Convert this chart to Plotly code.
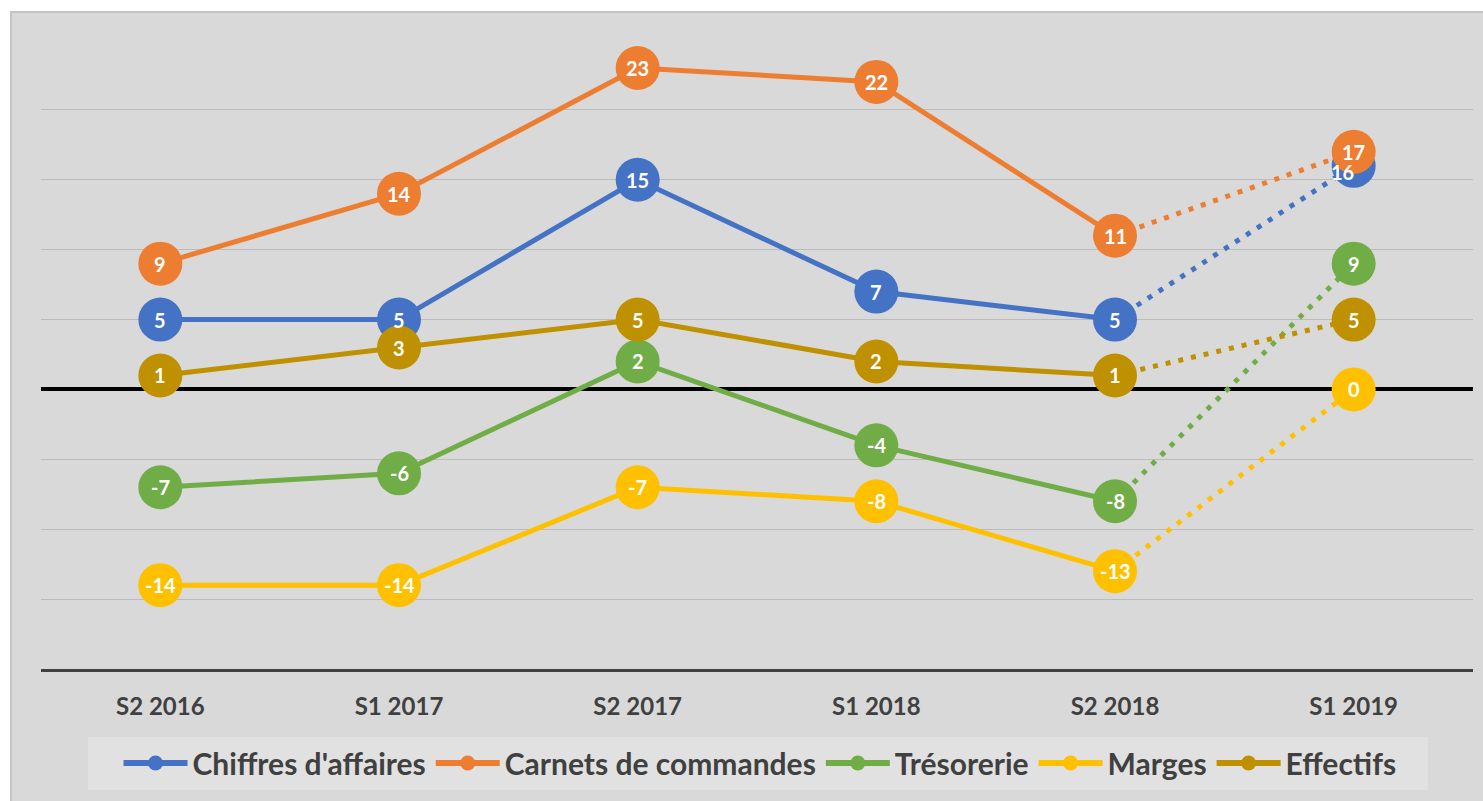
import plotly.graph_objects as go

periods = ["S2 2016", "S1 2017", "S2 2017", "S1 2018", "S2 2018", "S1 2019"]
series_names = ["Chiffres d'affaires", "Carnets de commandes", "Trésorerie", "Marges", "Effectifs"]
chiffres = [5, 5, 15, 7, 5, 16]
carnets = [9, 14, 23, 22, 11, 17]
tresorerie = [-7, -6, 2, -4, -8, 9]
marges = [-14, -14, -7, -8, -13, 0]
effectifs = [1, 3, 5, 2, 1, 5]

values = [chiffres, carnets, tresorerie, marges, effectifs]
colors = ["#4472C4", "#ED7D31", "#70AD47", "#FFC000", "#BF9000"]

FONT = "Lato"
fig = go.Figure()

# lines (solid for actuals, dotted for forecast)
for name, vals, col in zip(series_names, values, colors):
    fig.add_trace(go.Scatter(x=periods[:5], y=vals[:5], mode="lines",
                             line=dict(color=col, width=5), showlegend=False, hoverinfo="skip"))
    fig.add_trace(go.Scatter(x=periods[4:], y=vals[4:], mode="lines",
                             line=dict(color=col, width=5, dash="5px,8px"), showlegend=False, hoverinfo="skip"))
# markers
for name, vals, col in zip(series_names, values, colors):
    fig.add_trace(go.Scatter(x=periods, y=vals, mode="markers",
                             marker=dict(color=col, size=44, line=dict(width=0)),
                             showlegend=False, name=name))
# legend entries
for name, col in zip(series_names, colors):
    fig.add_trace(go.Scatter(x=[None], y=[None], mode="lines+markers", name=name,
                             line=dict(color=col, width=6), marker=dict(color=col, size=15)))

# data labels
for si, (vals, col) in enumerate(zip(values, colors)):
    for i, v in enumerate(vals):
        xs, ys = 0, 0
        if si == 0 and i == 5:
            xs, ys = -11, -6
        fig.add_annotation(x=periods[i], y=v, text=f"<b>{v}</b>", showarrow=False,
                           font=dict(family=FONT, size=20, color="white"),
                           xshift=xs, yshift=ys)

L, R, T, B = 41, 10, 40, 132
W, H = 1483, 801
pw, ph = W - L - R, H - T - B

def px(x):
    return (x - L) / pw

def py(y):
    return (H - B - y) / ph

# chart area background
fig.add_shape(type="rect", xref="paper", yref="paper", x0=px(11), x1=px(1500), y0=py(12), y1=py(820),
              fillcolor="#d9d9d9", line=dict(color="#c4c4c4", width=2), layer="below")
# legend background
fig.add_shape(type="rect", xref="paper", yref="paper", x0=px(88), x1=px(1428), y0=py(737), y1=py(790),
              fillcolor="#e1e1e1", line=dict(width=0), layer="below")

fig.update_layout(
    width=W, height=H,
    margin=dict(l=L, r=R, t=T, b=B),
    paper_bgcolor="white",
    plot_bgcolor="rgba(0,0,0,0)",
    showlegend=True,
    legend=dict(orientation="h", x=px(760), y=py(763), xanchor="center", yanchor="middle",
                bgcolor="rgba(0,0,0,0)",
                font=dict(family=FONT, size=30, color="#404040", weight="bold"),
                itemwidth=64, traceorder="normal"),
    xaxis=dict(type="category", range=[-0.5, 5.5], showgrid=False, zeroline=False,
               showline=True, linecolor="#404040", linewidth=3, ticks="",
               tickfont=dict(family=FONT, size=24, color="#404040", weight="bold"),
               ticklabelstandoff=14),
    yaxis=dict(range=[-20, 25], dtick=5, showticklabels=False, showgrid=True,
               gridcolor="#bcbcbc", gridwidth=1, zeroline=True, zerolinecolor="black",
               zerolinewidth=4, showline=False),
)

fig.write_html("out.html", config={"displayModeBar": False},
               post_script="document.body.style.margin='0';document.body.style.overflow='hidden';")
